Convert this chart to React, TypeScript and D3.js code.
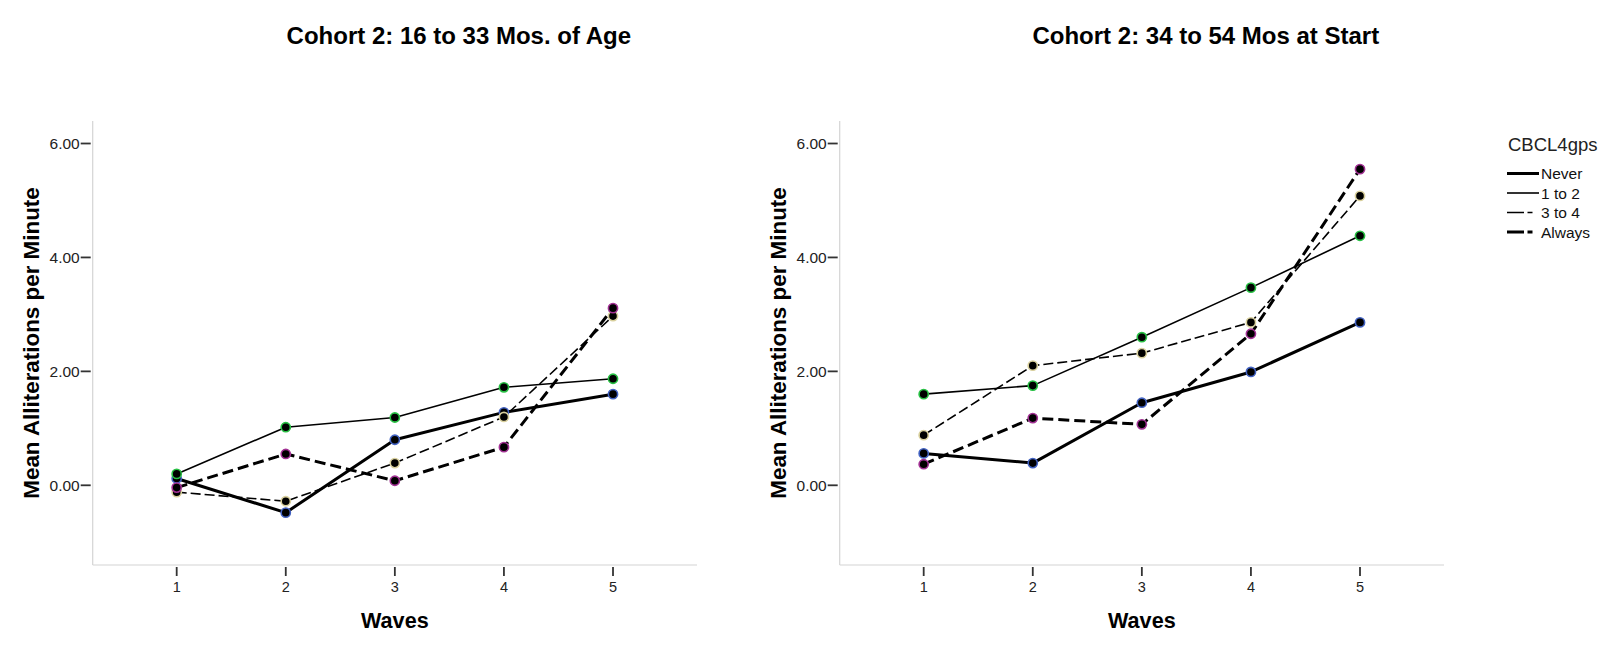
import React from "react";
import * as d3 from "d3";

// Waves on the x axis, four CBCL groups as lines
const waves = [1, 2, 3, 4, 5];
const groups = ["Never", "1 to 2", "3 to 4", "Always"];

const panelTitles = ["Cohort 2: 16 to 33 Mos. of Age", "Cohort 2: 34 to 54 Mos at Start"];

// Mean alliterations per minute (left panel)
const youngNever = [0.12, -0.48, 0.8, 1.28, 1.6];
const young1to2 = [0.2, 1.02, 1.19, 1.72, 1.87];
const young3to4 = [-0.12, -0.28, 0.39, 1.2, 2.97];
const youngAlways = [-0.04, 0.55, 0.08, 0.67, 3.11];

// right panel
const olderNever = [0.56, 0.39, 1.45, 1.99, 2.86];
const older1to2 = [1.6, 1.75, 2.6, 3.47, 4.38];
const older3to4 = [0.88, 2.1, 2.32, 2.86, 5.08];
const olderAlways = [0.37, 1.18, 1.07, 2.66, 5.55];

const yTicks = [0, 2, 4, 6];

const panels = [
  [youngNever, young1to2, young3to4, youngAlways],
  [olderNever, older1to2, older3to4, olderAlways],
];

const styles: Record<string, { width: number; dash: string | null; marker: string }> = {
  Never: { width: 3, dash: null, marker: "#4262c2" },
  "1 to 2": { width: 1.6, dash: null, marker: "#28c044" },
  "3 to 4": { width: 1.6, dash: "10,4", marker: "#d8cf9c" },
  Always: { width: 3, dash: "11,5", marker: "#a23194" },
};

// draw order for markers (later on top)
const drawOrder = [0, 2, 3, 1];

const FONT = "Arial, 'Liberation Sans', Helvetica, sans-serif";

function Panel({ series, title, dx }: { series: number[][]; title: string; dx: number }) {
  const x = d3.scaleLinear().domain([0.23, 5.77]).range([92.7 + dx, 697 + dx]);
  const y = d3.scaleLinear().domain([0, 6]).range([485.3, 143.5]);
  const bottom = 565;
  const top = 121;
  const line = d3
    .line<number>()
    .x((_d, i) => x(waves[i]))
    .y((d) => y(d));
  const left = x(0.23);

  return (
    <g>
      <text
        x={(left + x(5.77)) / 2 + 64}
        y={44}
        textAnchor="middle"
        fontSize={24}
        fontWeight="bold"
        fontFamily={FONT}
      >
        {title}
      </text>

      {/* axes */}
      <line x1={left} x2={left} y1={top} y2={bottom} stroke="#d4d4d4" strokeWidth={1.2} />
      <line x1={left} x2={x(5.77)} y1={bottom} y2={bottom} stroke="#d4d4d4" strokeWidth={1.2} />

      {yTicks.map((t) => (
        <g key={t}>
          <line x1={left - 12} x2={left - 2} y1={y(t)} y2={y(t)} stroke="#333" strokeWidth={1.8} />
          <text
            x={left - 13}
            y={y(t)}
            textAnchor="end"
            dominantBaseline="central"
            fontSize={15.5}
            fontFamily={FONT}
            fill="#222"
          >
            {d3.format(".2f")(t)}
          </text>
        </g>
      ))}

      {waves.map((w) => (
        <g key={w}>
          <line x1={x(w)} x2={x(w)} y1={bottom + 2} y2={bottom + 11} stroke="#333" strokeWidth={1.8} />
          <text x={x(w)} y={592} textAnchor="middle" fontSize={14.5} fontFamily={FONT} fill="#222">
            {w}
          </text>
        </g>
      ))}

      <text
        x={x(3)}
        y={628}
        textAnchor="middle"
        fontSize={21.6}
        fontWeight="bold"
        fontFamily={FONT}
      >
        Waves
      </text>
      <text
        transform={`translate(${38.5 + dx},${343}) rotate(-90)`}
        textAnchor="middle"
        fontSize={22.4}
        fontWeight="bold"
        fontFamily={FONT}
      >
        Mean Alliterations per Minute
      </text>

      {/* lines */}
      {drawOrder.map((gi) => {
        const st = styles[groups[gi]];
        return (
          <path
            key={"l" + gi}
            d={line(series[gi]) || ""}
            fill="none"
            stroke="#000"
            strokeWidth={st.width}
            strokeDasharray={st.dash || undefined}
            strokeLinejoin="round"
          />
        );
      })}

      {/* markers */}
      {drawOrder.map((gi) =>
        series[gi].map((v, i) => (
          <circle
            key={"m" + gi + "-" + i}
            cx={x(waves[i])}
            cy={y(v)}
            r={4.6}
            fill="#000"
            stroke={styles[groups[gi]].marker}
            strokeWidth={1.6}
          />
        ))
      )}
    </g>
  );
}

function Legend() {
  const x0 = 1507;
  const x1 = 1539;
  const rowY = d3.scaleLinear().domain([0, 3]).range([173.5, 232]);
  const legendDash: Record<string, string | null> = {
    Never: null,
    "1 to 2": null,
    "3 to 4": "17,3.5,5,100",
    Always: "17,3.5,5,100",
  };
  return (
    <g fontFamily={FONT}>
      <text x={1508} y={151} fontSize={18.5} fill="#222">
        CBCL4gps
      </text>
      {groups.map((g, i) => (
        <g key={g}>
          <line
            x1={x0}
            x2={x1}
            y1={rowY(i)}
            y2={rowY(i)}
            stroke="#000"
            strokeWidth={styles[g].width}
            strokeDasharray={legendDash[g] || undefined}
          />
          <text x={x1 + 2} y={rowY(i)} dominantBaseline="central" fontSize={15.5} fill="#111">
            {g}
          </text>
        </g>
      ))}
    </g>
  );
}

export default function App() {
  return (
    <svg
      width={1616}
      height={647}
      style={{ position: "absolute", left: 0, top: 0, background: "#fff" }}
    >
      <rect width={1616} height={647} fill="#fff" />
      {panels.map((series, p) => (
        <Panel key={p} series={series} title={panelTitles[p]} dx={p * 747} />
      ))}
      <Legend />
    </svg>
  );
}
